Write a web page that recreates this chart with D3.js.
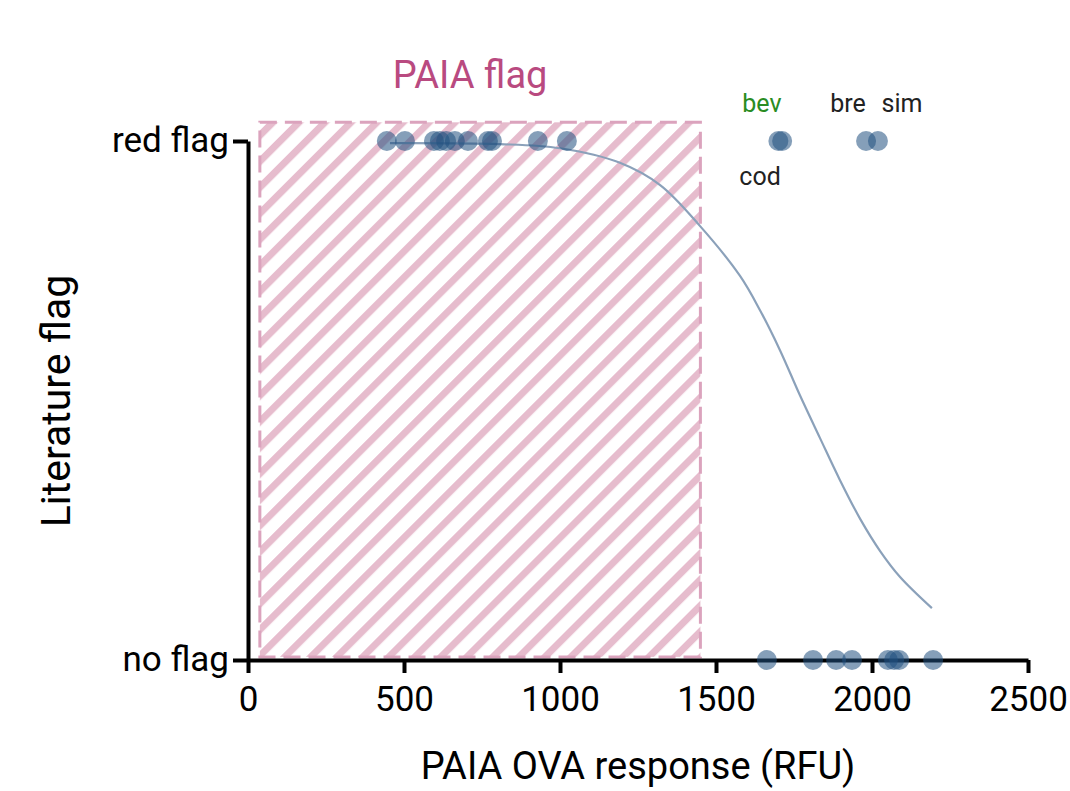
<!DOCTYPE html>
<html>
<head>
<meta charset="utf-8">
<script src="https://cdn.jsdelivr.net/npm/d3@7"></script>
<style>
  body { margin: 0; background: #fff; }
  text { font-family: Roboto, "DejaVu Sans", sans-serif; }
</style>
</head>
<body>
<script>
// valori
const redFlagRfu = [445, 503, 596, 615, 635, 663, 705, 769, 782, 929, 1022, 1700, 1712, 1981, 2019];
const noFlagRfu = [1663, 1811, 1885, 1936, 2051, 2071, 2087, 2196];

// curva di fit (probabilita' di red flag)
const fitRfu = [455, 808, 1000, 1192, 1321, 1449, 1577, 1641, 1705, 1769, 1833, 1897, 1962, 2026, 2090, 2192];
const fitProb = [0.996, 0.994, 0.986, 0.958, 0.915, 0.836, 0.740, 0.674, 0.597, 0.510, 0.428, 0.347, 0.272, 0.210, 0.160, 0.100];

// zona PAIA flag
const paiaRange = [38, 1450];
const paiaProb = [0.006, 1.036];

const xTicks = [0, 500, 1000, 1500, 2000, 2500];
const yTicks = [0, 1];
const yTickLabels = ["no flag", "red flag"];

const annotations = [
  { text: "bev", rfu: 1705, side: "top", color: "#2a8c22" },
  { text: "cod", rfu: 1699, side: "bottom", color: "#222" },
  { text: "bre", rfu: 1981, side: "top", color: "#222" },
  { text: "sim", rfu: 2154, side: "top", color: "#222" }
];

const width = 1070, height = 791;

var svg = d3.select("body")
  .append("svg")
  .attr("width", width)
  .attr("height", height);

var x = d3.scaleLinear().domain([0, 2500]).range([248, 1028]);
var y = d3.scaleLinear().domain([0, 1]).range([660, 141]);

// pattern a righe diagonali
var defs = svg.append("defs");
var pat = defs.append("pattern")
  .attr("id", "hatch")
  .attr("patternUnits", "userSpaceOnUse")
  .attr("width", 18.4)
  .attr("height", 18.4)
  .attr("patternTransform", "rotate(45)");
pat.append("rect")
  .attr("x", 0).attr("y", 0)
  .attr("width", 7).attr("height", 18.4)
  .attr("fill", "#e6bccd");

svg.append("rect")
  .attr("x", x(paiaRange[0]))
  .attr("y", y(paiaProb[1]))
  .attr("width", x(paiaRange[1]) - x(paiaRange[0]))
  .attr("height", y(paiaProb[0]) - y(paiaProb[1]))
  .attr("fill", "url(#hatch)")
  .attr("stroke", "#dba3bd")
  .attr("stroke-width", 3)
  .attr("stroke-dasharray", "17 8");

svg.append("text")
  .attr("x", x((paiaRange[0] + paiaRange[1]) / 2) - 10)
  .attr("y", 88)
  .attr("text-anchor", "middle")
  .attr("font-size", 38)
  .attr("fill", "#b94a80")
  .text("PAIA flag");

// curva
var line = d3.line()
  .x(d => x(d[0]))
  .y(d => y(d[1]))
  .curve(d3.curveCatmullRom.alpha(0.5));

svg.append("path")
  .datum(fitRfu.map((v, i) => [v, fitProb[i]]))
  .attr("d", line)
  .attr("fill", "none")
  .attr("stroke", "#8ba1ba")
  .attr("stroke-width", 2.2);

// assi
var xAxis = svg.append("g")
  .attr("transform", "translate(0," + y(0) + ")")
  .call(d3.axisBottom(x).tickValues(xTicks).tickSize(13).tickSizeOuter(0).tickPadding(12)
    .tickFormat(d3.format("d")));

var yAxis = svg.append("g")
  .attr("transform", "translate(" + x(0) + ",0)")
  .call(d3.axisLeft(y).tickValues(yTicks).tickSize(15).tickSizeOuter(0).tickPadding(4)
    .tickFormat((d, i) => yTickLabels[i]));

[xAxis, yAxis].forEach(function (g) {
  g.select(".domain").attr("stroke", "#000").attr("stroke-width", 4);
  g.selectAll(".tick line").attr("stroke", "#000").attr("stroke-width", 4);
  g.selectAll(".tick text").attr("fill", "#000").attr("font-size", 35)
    .style("font-family", "Roboto, sans-serif");
});
yAxis.selectAll(".tick text").attr("dy", "0.3em");
xAxis.selectAll(".tick text").attr("dy", "0.75em");

// punti
var dots = redFlagRfu.map(v => [v, 1]).concat(noFlagRfu.map(v => [v, 0]));
svg.append("g")
  .selectAll("circle")
  .data(dots)
  .enter()
  .append("circle")
  .attr("cx", d => x(d[0]))
  .attr("cy", d => y(d[1]))
  .attr("r", 10)
  .attr("fill", "#215080")
  .attr("fill-opacity", 0.55);

// etichette
svg.append("g")
  .selectAll("text")
  .data(annotations)
  .enter()
  .append("text")
  .attr("x", d => x(d.rfu) - 18)
  .attr("y", d => d.side == "top" ? y(1) - 29 : y(1) + 44)
  .attr("text-anchor", "middle")
  .attr("font-size", 25)
  .attr("fill", d => d.color)
  .text(d => d.text);

// titoli degli assi
svg.append("text")
  .attr("x", 638)
  .attr("y", 779)
  .attr("text-anchor", "middle")
  .attr("font-size", 38)
  .attr("fill", "#000")
  .text("PAIA OVA response (RFU)");

svg.append("text")
  .attr("transform", "translate(70,401) rotate(-90)")
  .attr("text-anchor", "middle")
  .attr("font-size", 41)
  .attr("fill", "#000")
  .text("Literature flag");
</script>
</body>
</html>
